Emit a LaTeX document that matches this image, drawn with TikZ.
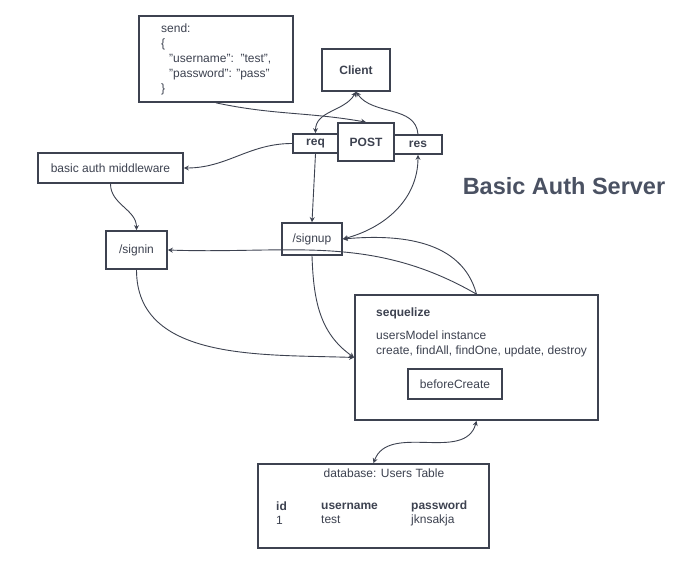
\documentclass[tikz,border=0pt]{standalone}
\usepackage{fontspec}
\setmainfont{Liberation Sans}
\usetikzlibrary{arrows.meta}
\definecolor{ink}{HTML}{3D4250}
\definecolor{titlec}{HTML}{4A5162}
\begin{document}
\begin{tikzpicture}[x=1pt,y=-1pt,
  box/.style={draw=ink, line width=1.7pt, inner sep=0pt, text=ink},
  txt/.style={inner sep=0pt, text=ink, font=\fontsize{12}{15}\selectfont},
  btxt/.style={inner sep=0pt, text=ink, font=\fontsize{12}{15}\selectfont\bfseries},
  conn/.style={draw=ink, line width=0.9pt, -{Stealth[length=5pt,width=5pt]}},
  conn2/.style={draw=ink, line width=0.9pt, {Stealth[length=5pt,width=5pt]}-{Stealth[length=5pt,width=5pt]}}
]
\useasboundingbox[fill=white] (0,0) rectangle (683,588);

% boxes
\node[box, minimum width=154, minimum height=86] (send) at (216,59) {};
\node[txt, anchor=west, align=left] (sendtxt) at (161,59.5) {send:\\\{\\\hspace{8pt}"username":\ \ "test",\\\hspace{8pt}"password": "pass"\\\}};
\node[box, minimum width=68, minimum height=42, btxt] (Client) at (356,70) {Client};
\node[box, minimum width=56, minimum height=38, btxt] (POST) at (366,142) {POST};
\node[box, minimum width=45, minimum height=19, btxt] (req) at (315.5,143.5) {req};
\node[box, minimum width=48, minimum height=19, btxt] (res) at (418,144.5) {res};
\node[box, minimum width=145, minimum height=30, txt] (mw) at (110.5,168) {basic auth middleware};
\node[box, minimum width=61, minimum height=38, txt] (signin) at (136.5,250) {/signin};
\node[box, minimum width=60, minimum height=32, txt] (signup) at (312,239) {/signup};
\node[box, minimum width=243, minimum height=125] (seq) at (476.5,357.5) {};
\node[btxt, anchor=west] (seqt) at (376,313) {sequelize};
\node[txt, anchor=west] (seqa) at (376,335) {usersModel instance};
\node[txt, anchor=west] (seqb) at (376,351) {create, findAll, findOne, update, destroy};
\node[box, minimum width=94, minimum height=30, txt] (bc) at (455,384) {beforeCreate};
\node[box, minimum width=231, minimum height=84] (db) at (373.5,506) {};
\node[txt] (dbt) at (384,473) {database: Users Table};
\node[btxt, anchor=west] (h1) at (276,506) {id};
\node[btxt, anchor=west] (h2) at (321,506) {username};
\node[btxt, anchor=west] (h3) at (411,506) {password};
\node[txt, anchor=west] (r1) at (276,520) {1};
\node[txt, anchor=west] (r2) at (321,520) {test};
\node[txt, anchor=west] (r3) at (411,520) {jknsakja};

\node[inner sep=0pt, text=titlec, font=\fontsize{23.5}{26}\selectfont\bfseries] (title) at (564,186) {Basic Auth Server};

% connectors
\draw[conn] (send.south) to[out=-12,in=170] (POST.north);
\draw[conn2] (Client.south) to[out=-120,in=90] (req.north);
\draw[conn] (res.north) to[out=95,in=-55] (Client.south);
\draw[conn] (req.west) to[out=180,in=0] (mw.east);
\draw[conn] (mw.south) to[out=-90,in=90] (signin.north);
\draw[conn] (req.south) -- (signup.north);
\draw[conn2] (signup.east) to[out=15,in=-90] (res.south);
\draw[conn] (seq.north) to[out=105,in=5] (signup.east);
\draw[conn] (seq.north) to[out=150,in=-2] (signin.east);
\draw[conn] (signin.south) to[out=-90,in=178] (seq.west);
\draw[conn] (signup.south) to[out=-88,in=145] (seq.west);
\draw[conn2] (seq.south) to[out=-105,in=70] (db.north);
\end{tikzpicture}
\end{document}
